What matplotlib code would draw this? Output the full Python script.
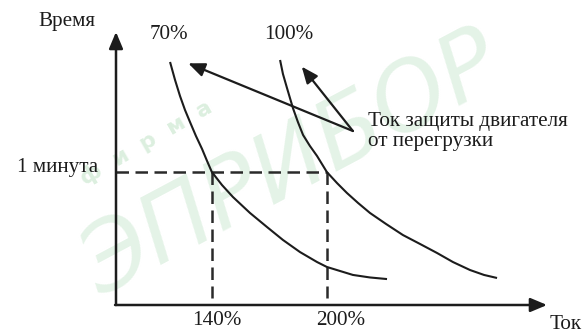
import matplotlib
matplotlib.use('Agg')
import matplotlib.pyplot as plt

###DATA (current in %, time in minutes)
curve70_current = [118.2, 120.8, 123.4, 126.0, 128.6, 131.7, 134.9, 137.5, 140.0, 145.3,
                   151.0, 159.9, 168.8, 177.1, 186.0, 194.9, 200.0, 213.6, 222.5, 231.4]
curve70_time = [1.827, 1.692, 1.571, 1.466, 1.376, 1.271, 1.173, 1.083, 1.000, 0.902,
                0.812, 0.692, 0.586, 0.489, 0.398, 0.323, 0.286, 0.226, 0.207, 0.195]

curve100_current = [175.6, 177.1, 179.2, 182.3, 184.9, 187.6, 191.2, 194.9, 200.0, 205.3, 210.5,
                    216.3, 222.5, 230.9, 239.7, 248.6, 257.5, 265.8, 274.7, 282.0, 288.8]
curve100_time = [1.842, 1.737, 1.632, 1.481, 1.376, 1.278, 1.195, 1.120, 1.000, 0.917, 0.842,
                 0.767, 0.692, 0.609, 0.526, 0.459, 0.391, 0.323, 0.263, 0.226, 0.203]

curve_labels = ['70%', '100%']
marked_current = [140, 200]
marked_labels = ['140%', '200%']
one_minute = 1.0

###FIGURE
plt.rcParams['font.family'] = ['Liberation Serif', 'DejaVu Serif']
fig = plt.figure(figsize=(5.84, 3.32), dpi=100)
ax = fig.add_axes([0, 0, 1, 1])
ax.axis('off')
ax.patch.set_alpha(0)
ax.set_xlim(29.48, 334.17)
ax.set_ylim(-0.203, 2.293)

ink = '#1c1c1c'
fs = 15.2

###WATERMARK (faint, behind everything)
fig.text(0.50, 0.50, 'ЭПРИБОР', fontsize=68, style='italic', family='DejaVu Sans',
         color='#e4f3e7', rotation=28, ha='center', va='center', zorder=-5)
fig.text(0.25, 0.57, 'ф  и  р  м  а', fontsize=16, fontweight='bold', family='DejaVu Sans',
         color='#dcefdf', rotation=30, ha='center', va='center', zorder=-5)

###AXES WITH ARROWS
axis_arrow = dict(arrowstyle='-|>,head_length=1.0,head_width=0.42', mutation_scale=10,
                  lw=1.8, color=ink, shrinkA=0, shrinkB=0)
ax.annotate('', xy=(90, 2.053), xytext=(90, 0), arrowprops=axis_arrow)
ax.annotate('', xy=(314.9, 0), xytext=(89.5, 0), arrowprops=axis_arrow)

###DASHED GUIDES
ax.plot([90, marked_current[1]], [one_minute, one_minute], color='#2a2a2a', lw=1.8,
        linestyle=(0, (5, 2.6)))
for c in marked_current:
    ax.plot([c, c], [one_minute, 0.053], color='#2a2a2a', lw=1.8, linestyle=(0, (5, 2.6)))

###CURVES
ax.plot(curve70_current, curve70_time, color=ink, lw=1.5, solid_capstyle='butt')
ax.plot(curve100_current, curve100_time, color=ink, lw=1.5, solid_capstyle='butt')

###POINTER ARROWS
pointer = dict(arrowstyle='-|>,head_length=1.0,head_width=0.42', mutation_scale=10,
               lw=1.6, color=ink, shrinkA=0, shrinkB=0)
ax.annotate('', xy=(127.7, 1.817), xytext=(213.6, 1.308), arrowprops=pointer)
ax.annotate('', xy=(186.9, 1.792), xytext=(213.6, 1.308), arrowprops=pointer)

###TEXTS
ax.text(64.4, 2.128, 'Время', fontsize=fs, color=ink, ha='center', va='center')
ax.text(117.7, 2.03, curve_labels[0], fontsize=fs, color=ink, ha='center', va='center')
ax.text(180.3, 2.03, curve_labels[1], fontsize=fs, color=ink, ha='center', va='center')
ax.text(80.6, 1.03, '1 минута', fontsize=fs, color=ink, ha='right', va='center')
ax.text(142.7, -0.113, marked_labels[0], fontsize=fs, color=ink, ha='center', va='center')
ax.text(207.4, -0.113, marked_labels[1], fontsize=fs, color=ink, ha='center', va='center')
ax.text(316.4, -0.143, 'Ток', fontsize=fs, color=ink, ha='left', va='center')
ax.text(221.5, 1.376, 'Ток защиты двигателя', fontsize=fs, color=ink, ha='left', va='center')
ax.text(221.5, 1.226, 'от перегрузки', fontsize=fs, color=ink, ha='left', va='center')

fig.savefig('out.png', dpi=100)
